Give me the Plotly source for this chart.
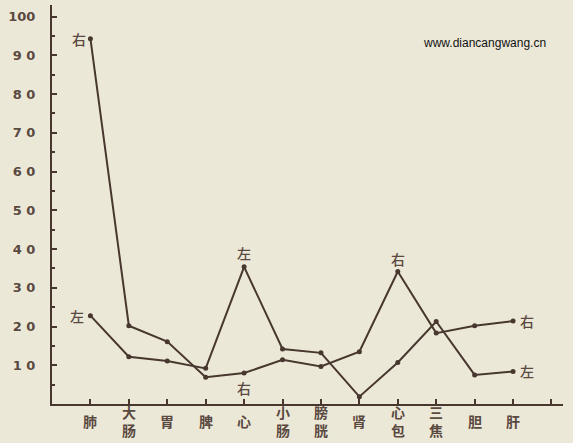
import plotly.graph_objects as go

# meridians (x categories)
organs = ["肺", "大<br>肠", "胃", "脾", "心", "小<br>肠", "膀<br>胱", "肾", "心<br>包", "三<br>焦", "胆", "肝"]
# readings
left_vals = [22.8, 12.2, 11.1, 9.2, 35.4, 14.2, 13.2, 1.9, 10.7, 21.3, 7.5, 8.4]
right_vals = [94.3, 20.2, 16.1, 6.9, 8.0, 11.4, 9.7, 13.5, 34.2, 18.3, 20.2, 21.4]
y_ticks = [10, 20, 30, 40, 50, 60, 70, 80, 90, 100]
y_ticktext = ["1 0", "2 0", "3 0", "4 0", "5 0", "6 0", "7 0", "8 0", "9 0", "100"]

INK = "#47372e"
TXT = "#5a4940"
BG = "#ece8d8"

xs = list(range(1, len(organs) + 1))

fig = go.Figure()
for vals in (left_vals, right_vals):
    fig.add_trace(go.Scatter(
        x=xs, y=vals, mode="lines+markers",
        line=dict(color=INK, width=2),
        marker=dict(color=INK, size=5),
        showlegend=False, hoverinfo="skip",
    ))

# x labels as annotations so single and stacked labels centre like the print
for i, name in enumerate(organs):
    fig.add_annotation(
        x=xs[i], y=-0.042, xref="x", yref="paper", text=name,
        showarrow=False, xanchor="center", yanchor="middle",
        font=dict(family="Noto Sans CJK SC", size=14, color=TXT, weight="bold"),
    )

cjk = dict(family="Noto Sans CJK SC", size=14, color=TXT, weight=500)
# series labels
fig.add_annotation(x=xs[0], y=right_vals[0], text="右", showarrow=False,
                   xanchor="right", xshift=-2, font=cjk)
fig.add_annotation(x=xs[0], y=left_vals[0], text="左", showarrow=False,
                   xanchor="right", xshift=-4, font=cjk)
fig.add_annotation(x=xs[4], y=left_vals[4], text="左", showarrow=False,
                   yanchor="bottom", yshift=2, font=cjk)
fig.add_annotation(x=xs[4], y=right_vals[4], text="右", showarrow=False,
                   yanchor="top", yshift=-3, font=cjk)
fig.add_annotation(x=xs[8], y=right_vals[8], text="右", showarrow=False,
                   yanchor="bottom", yshift=1, font=cjk)
fig.add_annotation(x=xs[11], y=right_vals[11], text="右", showarrow=False,
                   xanchor="left", xshift=5, font=cjk)
fig.add_annotation(x=xs[11], y=left_vals[11], text="左", showarrow=False,
                   xanchor="left", xshift=5, font=cjk)

fig.add_annotation(
    x=0.847, y=0.905, xref="paper", yref="paper", text="www.diancangwang.cn",
    showarrow=False, xanchor="center", yanchor="middle",
    font=dict(family="Liberation Sans", size=12, color="#111111"),
)

fig.update_layout(
    width=573, height=443, autosize=False,
    margin=dict(l=52, r=10, t=5, b=39),
    paper_bgcolor=BG, plot_bgcolor=BG,
    xaxis=dict(
        range=[0, 13.3], tickvals=xs + [13], ticktext=[""] * (len(xs) + 1),
        showgrid=False, zeroline=False, showline=True, linecolor=INK, linewidth=2,
        ticks="inside", ticklen=5, tickwidth=2, tickcolor=INK,
    ),
    yaxis=dict(
        range=[0, 103], tickvals=y_ticks, ticktext=y_ticktext,
        showgrid=False, zeroline=False, showline=True, linecolor=INK, linewidth=2,
        ticks="inside", ticklen=5, tickwidth=2, tickcolor=INK,
        minor=dict(tickvals=[5, 15, 25, 35, 45, 55, 65, 75, 85, 95],
                   ticks="inside", ticklen=3, tickwidth=1.5, tickcolor=INK),
        tickfont=dict(family="DejaVu Sans", size=13, color=TXT, weight="bold"),
        ticklabelstandoff=12,
    ),
    font=dict(family="DejaVu Sans", color=TXT),
)

# drop the page's default body margin so the chart sits at the window's corner
fig.write_html("out.html", config={"displayModeBar": False},
               post_script="document.body.style.margin='0';")
